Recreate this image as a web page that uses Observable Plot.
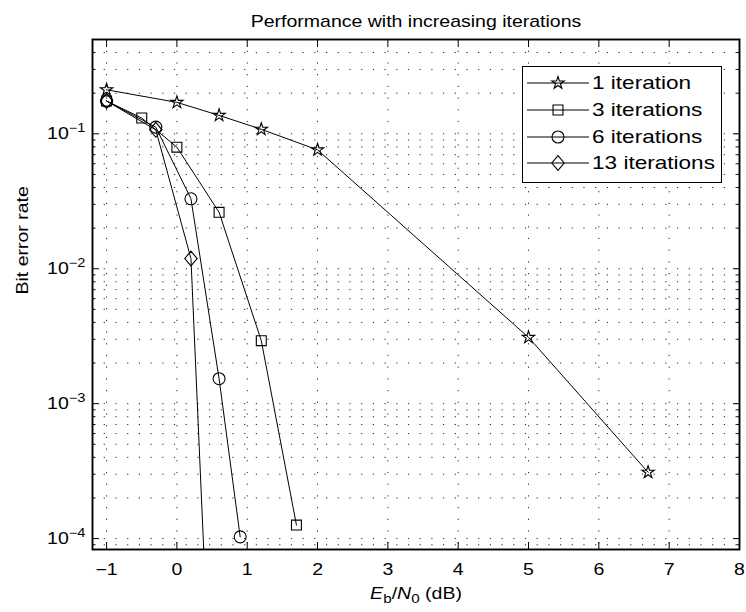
<!DOCTYPE html>
<html>
<head>
<meta charset="utf-8">
<script src="https://cdn.jsdelivr.net/npm/d3@7"></script>
<script src="https://cdn.jsdelivr.net/npm/@observablehq/plot@0.6"></script>
<style>
  html, body { margin: 0; padding: 0; background: #fff; }
  #wrap { position: relative; width: 746px; height: 612px; font-family: "Liberation Sans", Arial, sans-serif; }
  #legend { position: absolute; left: 522px; top: 66px; width: 200px; height: 117px; border: 1.5px solid #000; background: #fff; box-sizing: border-box; padding-top: 3px; }
  .row { display: flex; align-items: center; height: 26.7px; font-size: 18.5px; color: #000; }
  .row svg { flex: none; display: block; }
  .row span { margin-left: 3px; white-space: nowrap; display: inline-block; transform: scaleX(1.22); transform-origin: 0 50%; }
</style>
</head>
<body>
<div id="wrap"></div>
<script>
// ---- data ----
const seriesNames = ["1 iteration", "3 iterations", "6 iterations", "13 iterations"];
const snr1 = [-1, 0, 0.6, 1.2, 2, 5, 6.7];
const ber1 = [0.212, 0.171, 0.137, 0.108, 0.076, 0.0031, 0.00031];
const snr3 = [-1, -0.5, 0, 0.6, 1.2, 1.7];
const ber3 = [0.175, 0.131, 0.0796, 0.0262, 0.00293, 0.000126];
const snr6 = [-1, -0.3, 0.2, 0.6, 0.9];
const ber6 = [0.175, 0.112, 0.033, 0.00153, 0.000103];
const snr13 = [-1, -0.3, 0.2, 0.4];
const ber13 = [0.175, 0.107, 0.0119, 0.00005];

const xTicks = [-1, 0, 1, 2, 3, 4, 5, 6, 7, 8];
const yMajor = [1e-4, 1e-3, 1e-2, 1e-1];
const xDomain = [-1.2, 8];
const yDomain = [8.3e-5, 0.5];
const titleText = "Performance with increasing iterations";
const yLabelText = "Bit error rate";
const xLabelText = "E_b/N_0 (dB)";

// ---- derived ----
const yMinor = [-5, -4, -3, -2, -1].flatMap(e => [2,3,4,5,6,7,8,9].map(m => +(m * Math.pow(10, e)).toPrecision(3)))
  .filter(v => v >= yDomain[0] && v <= yDomain[1]);
const yGrid = yMajor.concat(yMinor);

const tbl = (xs, ys) => xs.map((x, i) => ({x, y: ys[i]}));
const d1 = tbl(snr1, ber1), d3s = tbl(snr3, ber3), d6 = tbl(snr6, ber6), d13 = tbl(snr13, ber13);

const diamond = {
  draw(ctx, size) {
    const w = 6.2, h = 7.4;
    ctx.moveTo(0, -h); ctx.lineTo(w, 0); ctx.lineTo(0, h); ctx.lineTo(-w, 0); ctx.closePath();
  }
};
const symbols = ["star", "square", "circle", diamond];
const radii = [3.9, 5.6, 6, 6];
const datasets = [d1, d3s, d6, d13];

const dotted = {stroke: "#000", strokeWidth: 1, strokeDasharray: "1.2,10.5", strokeOpacity: 0.85};
const noText = () => "";
const FS = 16;

const marks = [
  Plot.ruleY(yGrid, dotted),
  Plot.ruleX(xTicks, dotted),
  // inward ticks
  Plot.axisX({anchor: "bottom", ticks: xTicks, tickSize: -7, tickFormat: noText, label: null}),
  Plot.axisX({anchor: "top", ticks: xTicks, tickSize: -7, tickFormat: noText, label: null}),
  Plot.axisY({anchor: "left", ticks: yMajor, tickSize: -7, tickFormat: noText, label: null}),
  Plot.axisY({anchor: "left", ticks: yMinor, tickSize: -3.5, tickFormat: noText, label: null}),
  Plot.axisY({anchor: "right", ticks: yMajor, tickSize: -7, tickFormat: noText, label: null}),
  Plot.axisY({anchor: "right", ticks: yMinor, tickSize: -3.5, tickFormat: noText, label: null}),
  // labels
  Plot.axisX({anchor: "bottom", ticks: xTicks, tickSize: 0, tickPadding: 14, fontSize: FS, tickFormat: d => String(d).replace("-", "\u2212"), label: null}),
  Plot.axisY({anchor: "left", ticks: yMajor, tickSize: 0, tickPadding: 7, fontSize: FS, tickFormat: d => "10^" + Math.round(Math.log10(d)), label: null}),
  Plot.frame({stroke: "#000", strokeWidth: 1.9}),
  ...datasets.map(d => Plot.line(d, {x: "x", y: "y", stroke: "#000", strokeWidth: 1, clip: true})),
  ...datasets.map((d, i) => Plot.dot(d, {x: "x", y: "y", symbol: symbols[i], r: radii[i], stroke: "#000", strokeWidth: 1.1, fill: "none", clip: true})),
  Plot.text([titleText], {frameAnchor: "top", dy: -23.5, fontSize: FS, fill: "#000"}),
  Plot.text([yLabelText], {frameAnchor: "left", dx: -69.5, rotate: -90, fontSize: FS, fill: "#000"}),
  Plot.text([xLabelText], {frameAnchor: "bottom", dy: 49, fontSize: FS, fill: "#000"})
];

const chart = Plot.plot({
  width: 746,
  height: 612,
  marginLeft: 92,
  marginRight: 7,
  marginTop: 39,
  marginBottom: 63,
  style: {fontFamily: "'Liberation Sans', Arial, sans-serif", fontSize: FS + "px", color: "#000", background: "#fff"},
  x: {domain: xDomain},
  y: {type: "log", domain: yDomain},
  marks
});

const ns = "http://www.w3.org/2000/svg";
const STRETCH = 1.22;
chart.querySelectorAll("text").forEach(t => {
  const s = t.textContent;
  const m = s.match(/^10\^(-?\d+)$/);
  if (m) {
    t.textContent = "10";
    const ts = document.createElementNS(ns, "tspan");
    ts.setAttribute("dy", "-7");
    ts.setAttribute("font-size", "12");
    ts.textContent = m[1].replace("-", "\u2212");
    t.appendChild(ts);
  } else if (s === xLabelText) {
    t.textContent = "";
    const parts = [
      {t: "E", it: true},
      {t: "b", sub: true},
      {t: "/"},
      {t: "N", it: true},
      {t: "0", sub: true},
      {t: " (dB)"}
    ];
    let shifted = false;
    parts.forEach(p => {
      const ts = document.createElementNS(ns, "tspan");
      ts.textContent = p.t;
      if (p.it) ts.setAttribute("font-style", "italic");
      if (p.sub) { ts.setAttribute("font-size", "12.5"); ts.setAttribute("dy", "4"); shifted = true; }
      else if (shifted) { ts.setAttribute("dy", "-4"); shifted = false; }
      t.appendChild(ts);
    });
  }
  // the reference font is set wide: stretch glyphs horizontally about the anchor
  if (t.textContent.trim() !== "") {
    const tr = t.getAttribute("transform") || "";
    t.setAttribute("transform", `${tr} scale(${STRETCH},1)`);
    const xa = t.getAttribute("x");
    if (xa !== null && xa !== "" && !isNaN(+xa)) t.setAttribute("x", +xa / STRETCH);
  }
});

const wrap = document.getElementById("wrap");
wrap.appendChild(chart);

// legend overlay
const legend = document.createElement("div");
legend.id = "legend";
seriesNames.forEach((name, i) => {
  const row = document.createElement("div");
  row.className = "row";
  const sv = d3.create("svg").attr("width", 66).attr("height", 26);
  sv.append("line").attr("x1", 4).attr("x2", 66).attr("y1", 13).attr("y2", 13).attr("stroke", "#000").attr("stroke-width", 1);
  const sym = typeof symbols[i] === "string"
    ? ({star: d3.symbolStar, square: d3.symbolSquare, circle: d3.symbolCircle})[symbols[i]]
    : symbols[i];
  sv.append("path").attr("transform", "translate(35,13)")
    .attr("d", d3.symbol(sym, Math.PI * radii[i] * radii[i])())
    .attr("fill", "none").attr("stroke", "#000").attr("stroke-width", 1.1);
  row.appendChild(sv.node());
  const sp = document.createElement("span");
  sp.textContent = name;
  row.appendChild(sp);
  legend.appendChild(row);
});
wrap.appendChild(legend);
</script>
</body>
</html>
